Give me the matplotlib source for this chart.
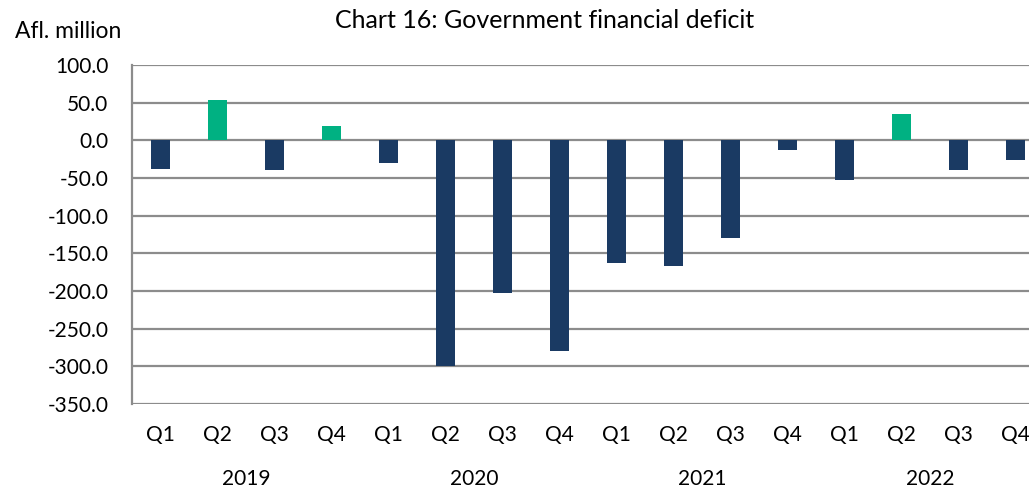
import matplotlib
matplotlib.use("Agg")
import matplotlib.pyplot as plt
import numpy as np

quarters = ["Q1", "Q2", "Q3", "Q4"] * 4
years = ["2019", "2020", "2021", "2022"]
values = [-38, 53, -40, 19, -30, -300, -203, -280,
          -163, -167, -130, -13, -53, 35, -39, -26]
yticks = [100, 50, 0, -50, -100, -150, -200, -250, -300, -350]

navy = "#1a3a63"
green = "#00b182"
grid_c = "#8c8c8c"

plt.rcParams['font.family'] = ['Lato', 'DejaVu Sans']

fig = plt.figure(figsize=(10.29, 4.92), dpi=100)
W, H = 1029, 492
left, right, top, bottom = 132, 1044, 65, 404
ax = fig.add_axes([left / W, 1 - bottom / H, (right - left) / W, (bottom - top) / H])

x = np.arange(len(values))
colors = [green if v > 0 else navy for v in values]
ax.bar(x, values, width=0.34, color=colors, zorder=3)

ax.set_xlim(-0.5, len(values) - 0.5)
ax.set_ylim(-350, 100)
ax.set_yticks(yticks)
ax.set_yticklabels([f"{t:.1f}" for t in yticks], fontsize=15)
ax.yaxis.grid(True, color=grid_c, linewidth=1.6, zorder=0)
ax.tick_params(axis='y', length=0, pad=17)
ax.tick_params(axis='x', length=0, pad=15)
ax.set_xticks(x)
ax.set_xticklabels(quarters, fontsize=15)
for s in ["top", "right", "bottom"]:
    ax.spines[s].set_visible(False)
ax.spines["left"].set_color(grid_c)
ax.spines["left"].set_linewidth(1.6)

for i, yr in enumerate(years):
    ax.text(i * 4 + 1.5, -0.22, yr, transform=ax.get_xaxis_transform(),
            ha='center', va='center', fontsize=15)

fig.text(545 / W, 1 - 20 / H, "Chart 16: Government financial deficit",
         ha='center', va='center', fontsize=18)
fig.text(15 / W, 1 - 31 / H, "Afl. million", ha='left', va='center', fontsize=16.5)

fig.savefig("out.png", dpi=100)
